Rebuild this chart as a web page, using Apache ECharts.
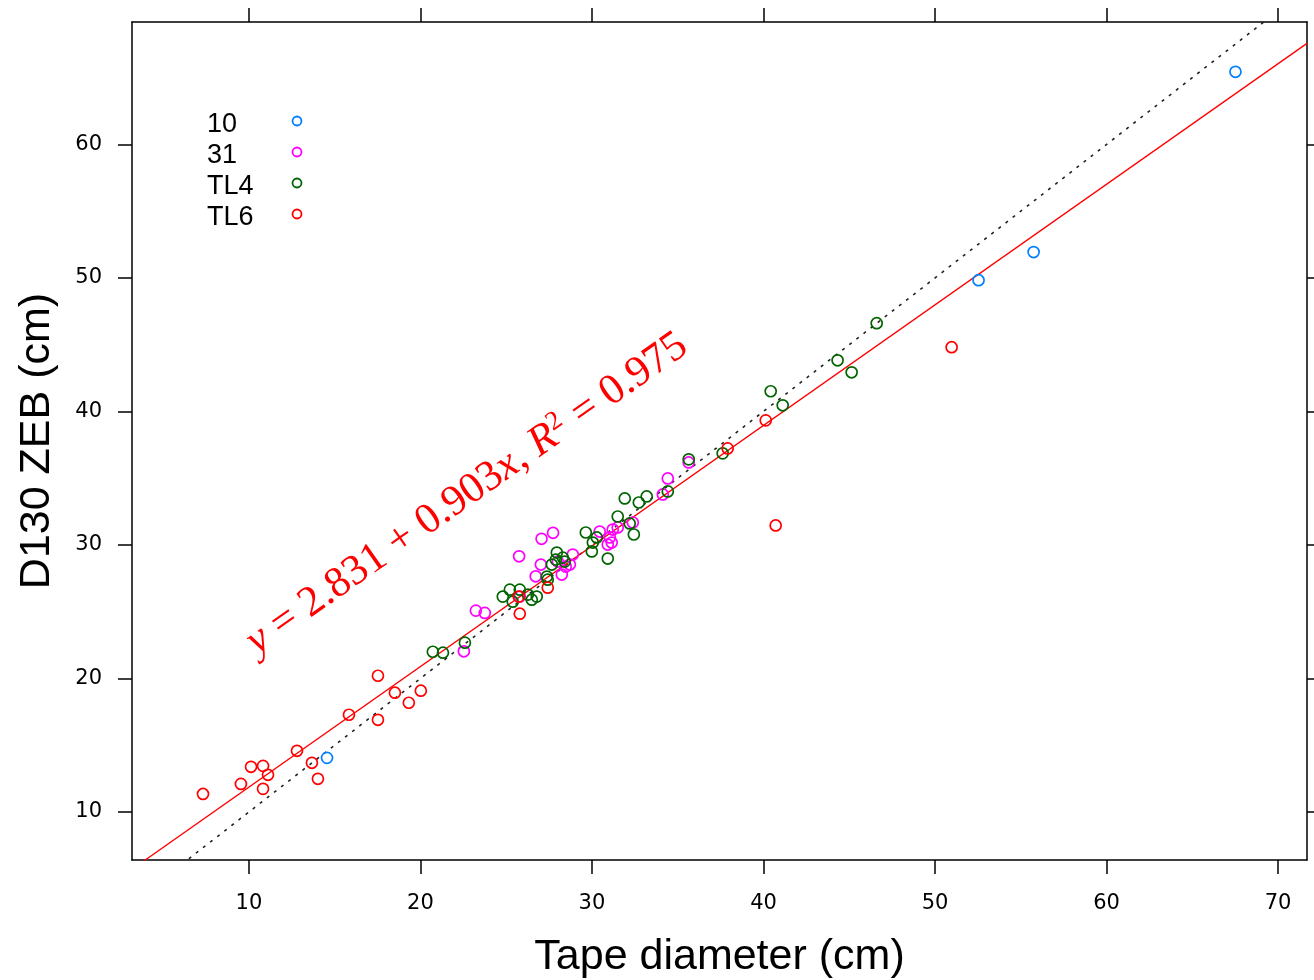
<!DOCTYPE html>
<html>
<head>
<meta charset="utf-8">
<title>D130 ZEB vs tape diameter</title>
<script src="https://cdn.jsdelivr.net/npm/echarts@6/dist/echarts.min.js"></script>
<style>
  html, body { margin: 0; padding: 0; background: #fff; }
  #chart { width: 1314px; height: 980px; }
</style>
</head>
<body>
<div id="chart"></div>
<script>
// Plot groups (legend order) and their colours
const groupNames = ['10', '31', 'TL4', 'TL6'];
const groupColors = ['#0080ff', '#ff00ff', '#006400', '#ff0000'];

// [tape diameter (cm), D130 ZEB (cm)] per group
const pts10 = [
  [14.55, 14.05], [52.54, 49.83], [55.75, 51.94], [67.52, 65.44]
];
const pts31 = [
  [27.06, 30.46], [27.73, 30.91], [25.75, 29.15], [27.02, 28.53], [26.72, 27.65],
  [23.23, 25.08], [23.75, 24.91], [22.53, 22.03], [28.01, 28.75], [28.47, 28.38],
  [28.88, 29.28], [28.71, 28.53], [30.45, 31.00], [31.21, 31.15], [31.50, 31.31],
  [31.04, 30.56], [30.92, 30.03], [32.38, 31.68], [25.79, 26.13], [34.42, 34.98],
  [34.13, 33.78], [35.64, 36.18], [31.15, 30.18], [28.24, 27.78]
];
const ptsTL4 = [
  [46.60, 46.61], [44.32, 43.83], [45.14, 42.93], [40.42, 41.51], [41.12, 40.46],
  [37.62, 36.86], [35.64, 36.41], [34.42, 34.01], [31.91, 33.48], [32.73, 33.18],
  [33.19, 33.63], [31.50, 32.13], [32.20, 31.61], [32.44, 30.78], [29.64, 30.93],
  [30.05, 30.18], [29.99, 29.51], [30.28, 30.56], [30.92, 28.98], [27.95, 29.43],
  [28.30, 29.05], [27.66, 28.53], [27.37, 27.63], [27.42, 27.40], [24.80, 26.13],
  [25.21, 26.65], [25.79, 26.65], [26.26, 26.28], [26.78, 26.13], [26.49, 25.90],
  [25.38, 25.75], [20.72, 22.00], [21.31, 21.93], [22.59, 22.68], [27.89, 28.90],
  [28.41, 28.75]
];
const ptsTL6 = [
  [7.32, 11.35], [9.53, 12.10], [10.12, 13.38], [10.82, 13.45], [11.11, 12.78],
  [10.82, 11.73], [12.80, 14.58], [13.67, 13.68], [14.02, 12.48], [15.83, 17.28],
  [17.52, 16.90], [17.52, 20.20], [18.51, 18.93], [19.32, 18.18], [20.02, 19.08],
  [25.73, 26.13], [25.79, 24.85], [27.42, 26.80], [37.91, 37.23], [40.13, 39.33],
  [50.97, 44.81], [40.71, 31.46]
];
const groupData = [pts10, pts31, ptsTL4, ptsTL6];

// Fitted line y = a + b x and its summary
const fitIntercept = 2.831;
const fitSlope = 0.903;
const fitR2 = 0.975;

// Axis ranges and tick labels
const xRange = [3.18, 71.69];
const yRange = [6.4, 69.17];
const xTicks = [10, 20, 30, 40, 50, 60, 70];
const yTicks = [10, 20, 30, 40, 50, 60];

const frame = { show: true, lineStyle: { color: '#000', width: 1.5 } };
const tickStyle = { show: true, inside: false, length: 14, lineStyle: { color: '#000', width: 1.5 } };
const labelFont = { fontFamily: 'DejaVu Sans', fontSize: 21, color: '#000' };
const titleFont = { fontFamily: 'Liberation Sans', fontSize: 43, color: '#000' };

function xAxisDef(pos, withLabels) {
  return {
    type: 'value', position: pos, min: xRange[0], max: xRange[1],
    axisLine: frame,
    axisTick: Object.assign({ customValues: xTicks }, tickStyle),
    axisLabel: Object.assign({ show: withLabels, customValues: xTicks, margin: 33 }, labelFont),
    splitLine: { show: false },
    name: withLabels ? 'Tape diameter (cm)' : '',
    nameLocation: 'middle', nameGap: 76, nameTextStyle: titleFont
  };
}
function yAxisDef(pos, withLabels) {
  return {
    type: 'value', position: pos, min: yRange[0], max: yRange[1],
    axisLine: frame,
    axisTick: Object.assign({ customValues: yTicks }, tickStyle),
    axisLabel: Object.assign({ show: withLabels, customValues: yTicks, margin: 30 }, labelFont),
    splitLine: { show: false },
    name: withLabels ? 'D130 ZEB (cm)' : '',
    nameLocation: 'middle', nameGap: 73, nameTextStyle: titleFont
  };
}

const scatterSeries = groupNames.map((name, i) => ({
  name: name, type: 'scatter', xAxisIndex: 0, yAxisIndex: 0,
  data: groupData[i], symbol: 'circle', symbolSize: 11,
  itemStyle: { color: 'rgba(0,0,0,0)', borderColor: groupColors[i], borderWidth: 1.7, opacity: 1 },
  emphasis: { disabled: true }, z: 3
}));

// 1:1 reference line and fitted line across the full x range
const identityLine = xRange.map(x => [x, x]);
const fitLine = xRange.map(x => [x, fitIntercept + fitSlope * x]);

const lineSeries = [
  {
    type: 'line', data: identityLine, symbol: 'none', clip: true, silent: true,
    lineStyle: { color: '#222', width: 1.6, type: [3, 6] }, z: 2
  },
  {
    type: 'line', data: fitLine, symbol: 'none', clip: true, silent: true,
    lineStyle: { color: '#ff0000', width: 1.3 }, z: 2
  }
];

// Legend: labels on the left, symbols in a column on the right
const legendItems = [];
groupNames.forEach((name, i) => {
  const cy = 124 + i * 31;
  legendItems.push({
    type: 'text', left: 207, top: cy - 13,
    style: { text: name, fontFamily: 'Liberation Sans', fontSize: 27, fill: '#000' }
  });
  legendItems.push({
    type: 'circle', shape: { cx: 297, cy: cy - 3, r: 4.5 },
    style: { fill: 'none', stroke: groupColors[i], lineWidth: 1.8 }
  });
});

// Fitted equation written along the fitted line
const angle = Math.atan(fitSlope * (13.34 / 17.155));
const equation = {
  type: 'text', x: 467, y: 494, rotation: angle,
  style: {
    text: '{i|y} = ' + fitIntercept.toFixed(3) + ' + ' + fitSlope.toFixed(3) + '{i|x}, {i|R}{s|2} = ' + fitR2.toFixed(3),
    fontFamily: 'Liberation Serif', fontSize: 43, fill: '#ff0000',
    align: 'center', verticalAlign: 'middle',
    rich: {
      i: { fontFamily: 'Liberation Serif', fontStyle: 'italic', fontSize: 43, fill: '#ff0000', color: '#ff0000' },
      s: { fontFamily: 'Liberation Serif', fontSize: 27, fill: '#ff0000', color: '#ff0000', verticalAlign: 'top', padding: [0, 2, 18, 0] }
    }
  },
  z: 10
};

const chart = echarts.init(document.getElementById('chart'), null, { renderer: 'canvas' });
chart.setOption({
  animation: false,
  backgroundColor: '#fff',
  grid: { left: 132, right: 7, top: 22, bottom: 120, outerBoundsMode: 'none', containLabel: false },
  xAxis: [xAxisDef('bottom', true), xAxisDef('top', false)],
  yAxis: [yAxisDef('left', true), yAxisDef('right', false)],
  series: lineSeries.concat(scatterSeries),
  graphic: legendItems.concat([equation])
});
</script>
</body>
</html>
